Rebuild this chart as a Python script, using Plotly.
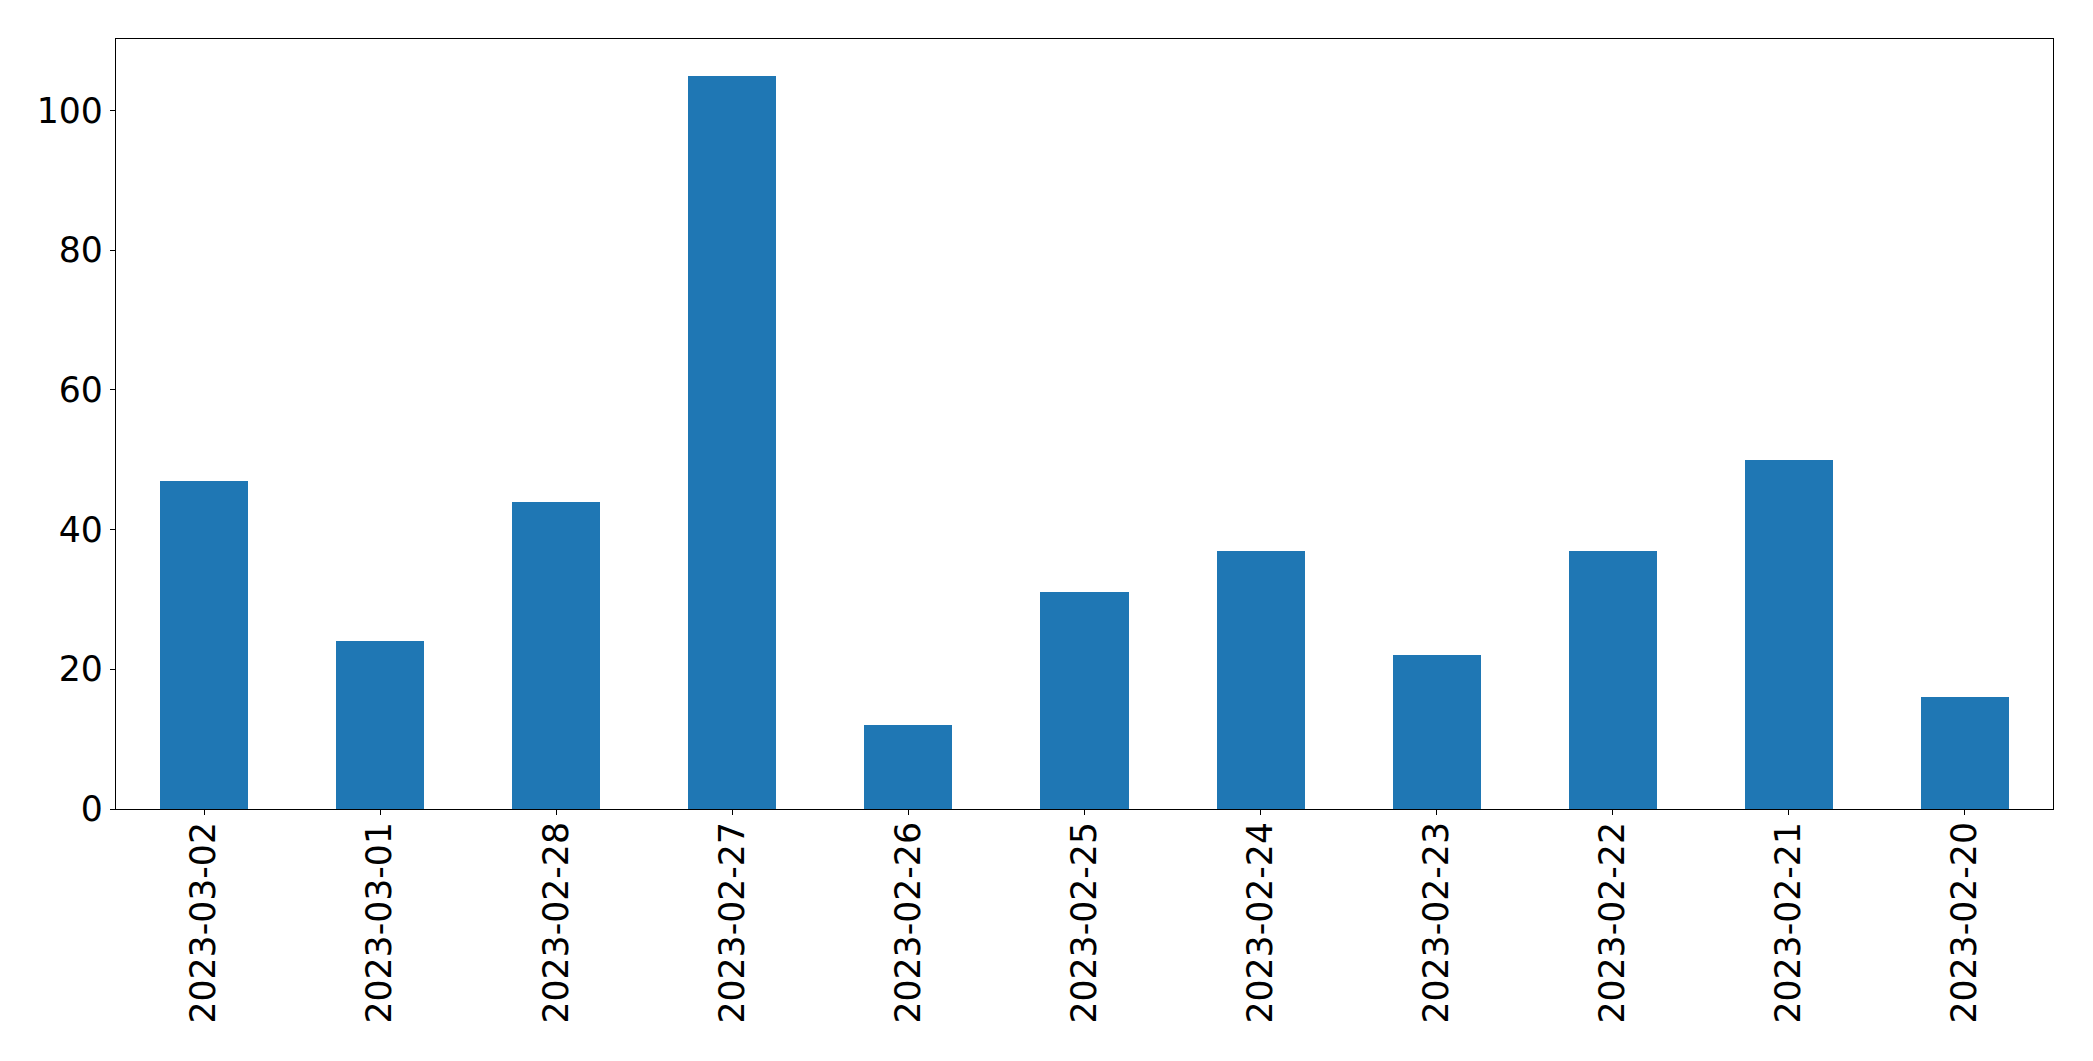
import plotly.graph_objects as go

dates = ["2023-03-02", "2023-03-01", "2023-02-28", "2023-02-27", "2023-02-26",
         "2023-02-25", "2023-02-24", "2023-02-23", "2023-02-22", "2023-02-21", "2023-02-20"]
counts = [47, 24, 44, 105, 12, 31, 37, 22, 37, 50, 16]
y_ticks = [0, 20, 40, 60, 80, 100]

fig = go.Figure()
fig.add_trace(go.Bar(x=dates, y=counts, width=0.5, marker=dict(color="#1f77b4", line=dict(width=0))))

# page body has an 8px default margin; compensate so the plot area lands where the reference has it
fig.update_layout(
    width=2077, height=1045,
    margin=dict(l=108, r=32, t=31, b=244),
    paper_bgcolor="white", plot_bgcolor="white",
    showlegend=False,
    font=dict(family="DejaVu Sans", size=34.7, color="black"),
    bargap=0,
)
fig.update_xaxes(
    type="category", range=[-0.5, len(dates) - 0.5],
    showline=True, linecolor="black", linewidth=1.3, mirror=True,
    ticks="outside", ticklen=5, tickwidth=1.3, tickcolor="black",
    tickangle=-90, showgrid=False, zeroline=False,
    tickfont=dict(size=34.7), ticklabelstandoff=-7,
)
fig.update_yaxes(
    range=[0, 110.25], tickvals=y_ticks, ticktext=[str(v) for v in y_ticks],
    showline=True, linecolor="black", linewidth=1.3, mirror=True,
    ticks="outside", ticklen=5, tickwidth=1.3, tickcolor="black",
    showgrid=False, zeroline=False,
    tickfont=dict(size=34.7),
)

fig.write_html("out.html")
